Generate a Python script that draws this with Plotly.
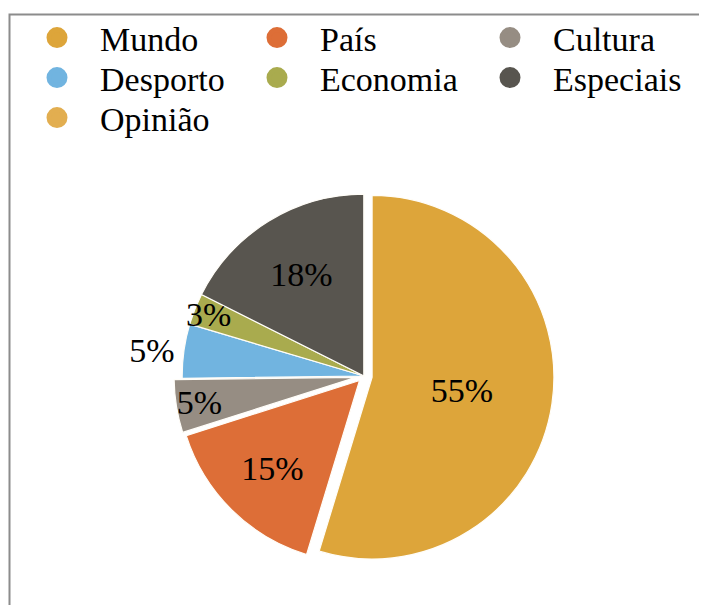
import plotly.graph_objects as go

# ---- data ----
categories = ["Mundo", "País", "Cultura", "Desporto", "Economia", "Especiais", "Opinião"]
shares = [54.7, 15.4, 4.7, 4.8, 2.8, 17.6, 0.0]
colors = ["#DDA53A", "#DD6E37", "#968D83", "#71B4E0", "#A9AB4E", "#58554F", "#E2AE50"]
pulls = [0.045, 0.035, 0.045, 0.0, 0.0, 0.0, 0.0]
text_pos = ["inside", "inside", "inside", "outside", "inside", "inside", "none"]

W, H = 707, 605
OFF = 8  # page body margin offset, px
FONT = "Liberation Serif, Times New Roman, serif"

def px_x(v):
    return (v - OFF) / W

def px_y(v):
    return 1 - (v - OFF) / H

fig = go.Figure()
fig.add_trace(go.Pie(
    labels=categories,
    values=shares,
    sort=False,
    direction="clockwise",
    rotation=0,
    pull=pulls,
    marker=dict(colors=colors, line=dict(color="#FFFDF8", width=1.2)),
    texttemplate="%{percent:.0%}",
    textposition=text_pos,
    insidetextorientation="horizontal",
    textfont=dict(family=FONT, size=34, color="black"),
    showlegend=False,
    hoverinfo="label+percent",
    domain=dict(x=[px_x(174), px_x(554)], y=[px_y(566), px_y(186)]),
))

# legend entries (one small legend per item, laid out in a 3-column grid)
col_x = [57, 277, 510]   # symbol centers, px (reference image)
row_y = [36, 76, 116]    # row centers, px (reference image)
ITEMW = 76
layout_legends = {}
for i, (cat, col) in enumerate(zip(categories, colors)):
    key = "legend" if i == 0 else f"legend{i + 1}"
    fig.add_trace(go.Scatter(
        x=[None], y=[None], mode="markers", name=cat,
        marker=dict(symbol="circle", size=16, color=col, line=dict(color=col, width=5)),
        legend=key, showlegend=True, hoverinfo="skip",
    ))
    cx = col_x[i % 3]
    cy = row_y[i // 3]
    layout_legends[key] = dict(
        x=px_x(cx - (ITEMW + 10) / 2), xanchor="left",
        y=px_y(cy - 27), yanchor="top",
        orientation="v", itemwidth=ITEMW,
        font=dict(family=FONT, size=34, color="black"),
        bgcolor="rgba(0,0,0,0)", borderwidth=0,
    )

fig.update_layout(
    width=W, height=H,
    margin=dict(l=0, r=0, t=0, b=0),
    paper_bgcolor="white", plot_bgcolor="white",
    xaxis=dict(visible=False), yaxis=dict(visible=False),
    uniformtext=dict(minsize=34, mode="show"),
    shapes=[dict(type="rect", xref="paper", yref="paper",
                 x0=px_x(9.5), x1=1.1, y0=-0.1, y1=px_y(14.5),
                 line=dict(color="#8C8C8C", width=2), fillcolor="rgba(0,0,0,0)",
                 layer="below")],
    **layout_legends,
)

fig.write_html("out.html")
